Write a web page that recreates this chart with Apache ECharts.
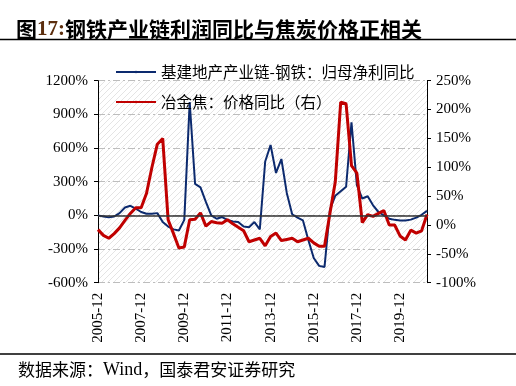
<!DOCTYPE html>
<html>
<head>
<meta charset="utf-8">
<script src="https://cdn.jsdelivr.net/npm/echarts@6/dist/echarts.min.js"></script>
<style>html,body{margin:0;padding:0;background:#fff;}#c{width:516px;height:386px;}</style>
</head>
<body>
<div id="c"></div>
<script>
const categories = [
  '2005-12',
  '2006-03','2006-06','2006-09','2006-12',
  '2007-03','2007-06','2007-09','2007-12',
  '2008-03','2008-06','2008-09','2008-12',
  '2009-03','2009-06','2009-09','2009-12',
  '2010-03','2010-06','2010-09','2010-12',
  '2011-03','2011-06','2011-09','2011-12',
  '2012-03','2012-06','2012-09','2012-12',
  '2013-03','2013-06','2013-09','2013-12',
  '2014-03','2014-06','2014-09','2014-12',
  '2015-03','2015-06','2015-09','2015-12',
  '2016-03','2016-06','2016-09','2016-12',
  '2017-03','2017-06','2017-09','2017-12',
  '2018-03','2018-06','2018-09','2018-12',
  '2019-03','2019-06','2019-09','2019-12',
  '2020-03','2020-06','2020-09','2020-12',
  '2021-03'
];
const steelProfitYoY = [
  0, -10, -18, -10, 20, 70, 85, 60, 30, 15,
  15, 20, -60, -100, -125, -135, -40, 1010, 280, 250,
  120, 0, -30, -15, -40, -55, -60, -100, -105, -60,
  -125, 480, 627, 378, 502, 200, 10, -20, -45, -220,
  -380, -450, -460, 50, 175, 215, 255, 830, 270, 150,
  170, 90, 30, 0, -30, -40, -45, -45, -38, -20,
  5, 40
];
const cokePriceYoY = [
  -8, -18, -23, -15, -5, 8, 20, 30, 30, 55,
  100, 140, 150, 9, -15, -40, -38, 9, 10, 21,
  -2, 6, 4, 3, 9, 2, -4, -10, -29, -26,
  -23, -36, -20, -14, -27, -25, -23, -29, -26, -23,
  -31, -37, -37, 20, 75, 213, 210, 103, 90, 4,
  18, 15, 20, 25, 0, 0, -19, -26, -9, -14,
  -10, 18
];
const leftTicks = { min: -600, max: 1200, interval: 300 };
const rightTicks = { min: -100, max: 250, interval: 50 };
const seriesNames = ['基建地产产业链-钢铁：归母净利同比', '冶金焦：价格同比（右）'];

// hatch pattern background
const pc = document.createElement('canvas');
pc.width = 6; pc.height = 6;
const px = pc.getContext('2d');
px.fillStyle = '#ffffff'; px.fillRect(0, 0, 6, 6);
px.strokeStyle = '#e4e4e4'; px.lineWidth = 1;
px.beginPath();
px.moveTo(0, 6); px.lineTo(6, 0);
px.moveTo(-1, 1); px.lineTo(1, -1);
px.moveTo(5, 7); px.lineTo(7, 5);
px.stroke();

const serif = "'Liberation Serif', 'Noto Sans CJK SC', serif";
const cjk = "'Noto Sans CJK SC', sans-serif";
const pct = v => v + '%';
const chart = echarts.init(document.getElementById('c'));
chart.setOption({
  animation: false,
  backgroundColor: '#ffffff',
  title: {
    text: '图{n|17:}钢铁产业链利润同比与焦炭价格正相关',
    left: 11, top: 14,
    textStyle: {
      fontSize: 21, fontWeight: 'bold', color: '#000',
      fontFamily: cjk,
      rich: { n: { fontSize: 21, fontWeight: 'bold', color: '#5c2e0e', fontFamily: serif } }
    }
  },
  graphic: [
    { type: 'line', shape: { x1: 0, y1: 39.5, x2: 516, y2: 39.5 }, style: { stroke: '#000', lineWidth: 1.5 } },
    { type: 'line', shape: { x1: 0, y1: 354, x2: 516, y2: 354 }, style: { stroke: '#000', lineWidth: 1.5 } },
    { type: 'text', left: 18, top: 361, style: {
        text: '数据来源：{w|Wind}，国泰君安证券研究', fontSize: 17, fill: '#000', fontFamily: cjk,
        rich: { w: { fontSize: 18, fontFamily: serif, fill: '#000' } }
      } }
  ],
  legend: {
    orient: 'vertical', left: 110, top: 58,
    itemWidth: 40, itemHeight: 3, itemGap: 12,
    textStyle: { fontSize: 15.5, color: '#000', lineHeight: 18, fontFamily: cjk },
    data: seriesNames
  },
  grid: {
    left: 98, right: 89, top: 80.7, bottom: 103.3,
    show: true, borderWidth: 0,
    backgroundColor: { image: pc, repeat: 'repeat' }
  },
  xAxis: {
    type: 'category', data: categories, boundaryGap: false,
    axisLine: { show: false }, axisTick: { show: false },
    axisLabel: { interval: 7, rotate: 90, margin: 10, fontSize: 15, color: '#000', fontFamily: serif },
    splitLine: { show: false }
  },
  yAxis: [
    {
      type: 'value', min: leftTicks.min, max: leftTicks.max, interval: leftTicks.interval,
      axisLine: { show: true, lineStyle: { color: '#000', width: 1 } },
      axisTick: { show: true, length: 4, lineStyle: { color: '#000' } },
      axisLabel: { formatter: pct, fontSize: 15, color: '#000', margin: 10, fontFamily: serif },
      splitLine: { show: true, lineStyle: { color: '#bdbdbd', width: 1, type: [7, 3, 2, 3] } }
    },
    {
      type: 'value', min: rightTicks.min, max: rightTicks.max, interval: rightTicks.interval,
      axisLine: { show: true, lineStyle: { color: '#000', width: 1 } },
      axisTick: { show: true, length: 4, lineStyle: { color: '#000' } },
      axisLabel: { formatter: pct, fontSize: 15, color: '#000', margin: 9, fontFamily: serif },
      splitLine: { show: false }
    }
  ],
  series: [
    {
      name: seriesNames[0], type: 'line', yAxisIndex: 0, data: steelProfitYoY,
      symbol: 'none', lineStyle: { color: '#0c2a6e', width: 2 }, itemStyle: { color: '#0c2a6e' },
      markLine: {
        silent: true, symbol: ['none', 'none'], label: { show: false },
        lineStyle: { color: '#333', type: 'solid', width: 1.5 },
        data: [{ yAxis: 0 }]
      },
      z: 2
    },
    {
      name: seriesNames[1], type: 'line', yAxisIndex: 1, data: cokePriceYoY,
      symbol: 'none', lineStyle: { color: '#c00000', width: 3 }, itemStyle: { color: '#c00000' },
      z: 3
    }
  ]
});
</script>
</body>
</html>
